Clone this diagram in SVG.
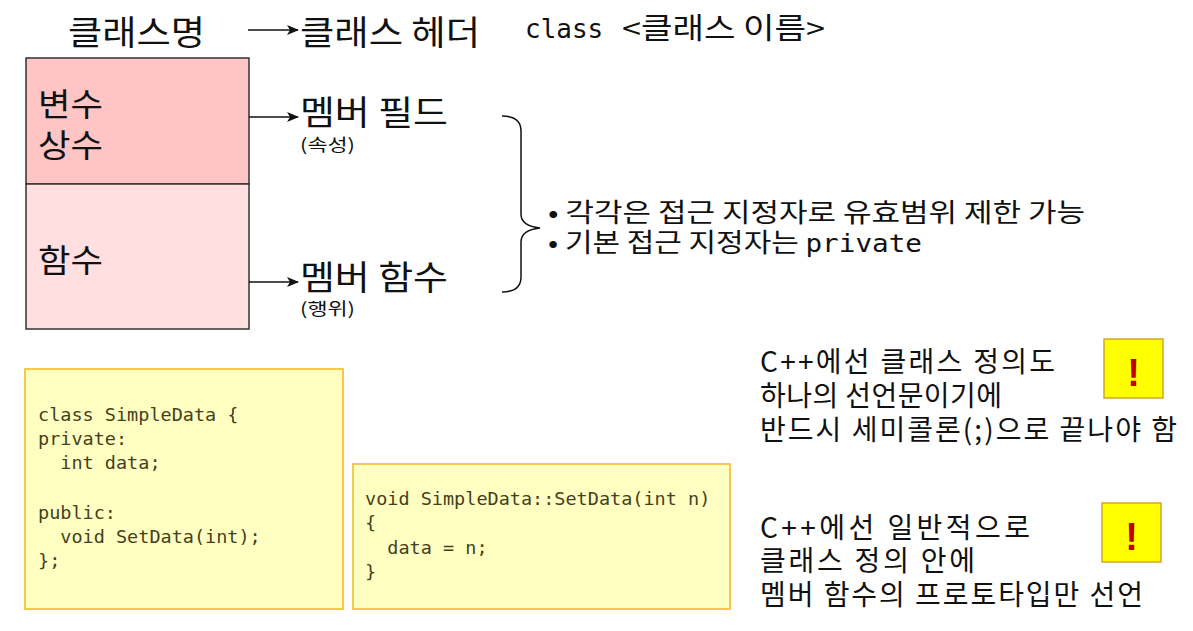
<svg xmlns="http://www.w3.org/2000/svg" width="1193" height="631" viewBox="0 0 1193 631">
  <style>
    .kr { font-family: "Noto Sans CJK KR", "Noto Sans", sans-serif; fill: #111; }
    .mono { font-family: "DejaVu Sans Mono", "Liberation Mono", "Noto Sans CJK KR", monospace; }
    .code { font-family: "DejaVu Sans Mono", "Liberation Mono", monospace; font-size: 18.5px; fill: #453f20; white-space: pre; }
    .codebox { fill: #ffffc2; stroke: #f6c94a; stroke-width: 2; }
    .warn { fill: #ffff00; stroke: #d4a626; stroke-width: 1.5; }
    .bang { font-family: "Liberation Sans", sans-serif; font-weight: bold; font-size: 38px; fill: #c00000; text-anchor: middle; }
    .conn { stroke: #111; stroke-width: 1.5; fill: none; }
  </style>
  <defs>
    <marker id="head" viewBox="0 0 12 10" refX="11" refY="5" markerWidth="12" markerHeight="10" markerUnits="userSpaceOnUse" orient="auto">
      <path d="M0,0 L12,5 L0,10 L3,5 Z" fill="#111"/>
    </marker>
  </defs>
  <rect width="1193" height="631" fill="#ffffff"/>

  <!-- header line -->
  <g id="class-name">
    <text class="kr" x="68" y="45" font-size="34" textLength="137" lengthAdjust="spacingAndGlyphs">클래스명</text>
  </g>
  <g id="class-header">
    <text class="kr" x="300" y="45" font-size="34" textLength="180" lengthAdjust="spacingAndGlyphs">클래스 헤더</text>
  </g>
  <g id="class-syntax">
    <text class="mono" x="525" y="38" font-size="26" fill="#111">class</text>
    <text class="kr" x="622" y="39" font-size="29" textLength="203" lengthAdjust="spacingAndGlyphs">&lt;클래스 이름&gt;</text>
  </g>

  <!-- class box -->
  <g id="box-fields">
    <rect x="26" y="58" width="223" height="126" fill="#ffc4c4" stroke="#333" stroke-width="1.5"/>
    <text class="kr" x="38" y="116" font-size="32" textLength="65" lengthAdjust="spacingAndGlyphs">변수</text>
    <text class="kr" x="38" y="157" font-size="32" textLength="65" lengthAdjust="spacingAndGlyphs">상수</text>
  </g>
  <g id="box-methods">
    <rect x="26" y="184" width="223" height="145" fill="#ffdfe0" stroke="#333" stroke-width="1.5"/>
    <text class="kr" x="38" y="272" font-size="32" textLength="65" lengthAdjust="spacingAndGlyphs">함수</text>
  </g>

  <!-- member labels -->
  <g id="member-field">
    <text class="kr" x="300" y="125" font-size="34" textLength="148" lengthAdjust="spacingAndGlyphs">멤버 필드</text>
    <text class="kr" x="300" y="151" font-size="17" textLength="55" lengthAdjust="spacingAndGlyphs">(속성)</text>
  </g>
  <g id="member-function">
    <text class="kr" x="300" y="290" font-size="34" textLength="148" lengthAdjust="spacingAndGlyphs">멤버 함수</text>
    <text class="kr" x="300" y="315" font-size="17" textLength="55" lengthAdjust="spacingAndGlyphs">(행위)</text>
  </g>

  <!-- access notes -->
  <g id="access-notes">
    <text class="kr" x="548" y="222" font-size="26" textLength="537" lengthAdjust="spacingAndGlyphs">• 각각은 접근 지정자로 유효범위 제한 가능</text>
    <text class="kr" x="548" y="252" font-size="26" textLength="374" lengthAdjust="spacingAndGlyphs">• 기본 접근 지정자는 <tspan class="mono" font-size="24">private</tspan></text>
  </g>

  <!-- connectors -->
  <g id="connectors">
    <line class="conn" x1="248" y1="30" x2="298" y2="30" marker-end="url(#head)"/>
    <line class="conn" x1="249" y1="117" x2="298" y2="117" marker-end="url(#head)"/>
    <line class="conn" x1="249" y1="282" x2="298" y2="282" marker-end="url(#head)"/>
    <path class="conn" stroke="#333" stroke-width="1.8" d="M502,116 Q521,116 521,131 L521,214 Q521,226 540,228 Q521,230 521,242 L521,277 Q521,292 502,292"/>
  </g>

  <!-- class declaration code -->
  <g id="code-declaration">
    <rect class="codebox" x="25" y="369" width="318" height="240"/>
    <text class="code" x="38" y="421">class SimpleData {</text>
    <text class="code" x="38" y="445">private:</text>
    <text class="code" x="38" y="469" xml:space="preserve">  int data;</text>
    <text class="code" x="38" y="519">public:</text>
    <text class="code" x="38" y="543" xml:space="preserve">  void SetData(int);</text>
    <text class="code" x="38" y="567">};</text>
  </g>

  <!-- member function definition code -->
  <g id="code-definition">
    <rect class="codebox" x="353" y="464" width="377" height="145"/>
    <text class="code" x="365" y="505">void SimpleData::SetData(int n)</text>
    <text class="code" x="365" y="529">{</text>
    <text class="code" x="365" y="554" xml:space="preserve">  data = n;</text>
    <text class="code" x="365" y="578">}</text>
  </g>

  <!-- notes -->
  <g id="note-semicolon">
    <text class="kr" x="760" y="372" font-size="28" textLength="295">C++에선 클래스 정의도</text>
    <text class="kr" x="760" y="406" font-size="28" textLength="242">하나의 선언문이기에</text>
    <text class="kr" x="760" y="440" font-size="28" textLength="417">반드시 세미콜론(;)으로 끝나야 함</text>
  </g>
  <g id="warn-1">
    <rect class="warn" x="1104" y="339" width="59" height="59"/>
    <text class="bang" x="1133.5" y="386">!</text>
  </g>
  <g id="note-prototype">
    <text class="kr" x="760" y="538" font-size="28" textLength="270">C++에선 일반적으로</text>
    <text class="kr" x="760" y="571" font-size="28" textLength="215">클래스 정의 안에</text>
    <text class="kr" x="760" y="605" font-size="28" textLength="383">멤버 함수의 프로토타입만 선언</text>
  </g>
  <g id="warn-2">
    <rect class="warn" x="1102" y="503" width="59" height="59"/>
    <text class="bang" x="1131.5" y="550">!</text>
  </g>
</svg>
